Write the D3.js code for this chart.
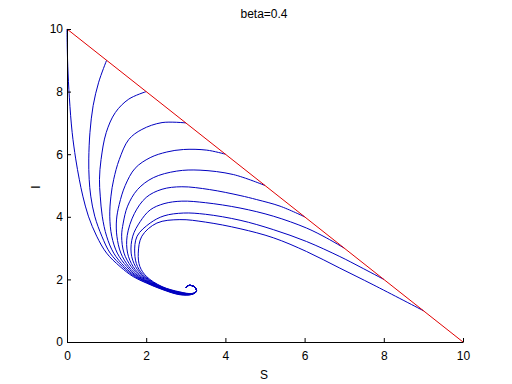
<!DOCTYPE html>
<html>
<head>
<meta charset="utf-8">
<script src="https://cdn.jsdelivr.net/npm/d3@7"></script>
<style>
  body { margin:0; background:#fff; }
  svg text { font-family: "Liberation Sans", Arial, sans-serif; font-size:12px; fill:#000; }
</style>
</head>
<body>
<svg id="chart" width="512" height="384"></svg>
<script>
// tick values
let xTicks = [0,2,4,6,8,10];
let yTicks = [0,2,4,6,8,10];

// S + I = N line
let lineN = [[0,10],[10,0]];

// trajectories [S, I], one per start point on the line
let traj0 = [[0,10],[0.005,9.5],[0.02,8.8],[0.06,7.8],[0.13,6.7],[0.22,5.85],[0.31,5.2],[0.4,4.66],[0.54,4.02],[0.75,3.38],[1.0,2.84],[1.34,2.41],[1.67,2.09],[2.01,1.88],[2.4,1.68],[2.85,1.51],[3.15,1.52],[3.27,1.62],[3.22,1.76],[3.08,1.81],[3.0,1.74]];
let traj1 = [[1,9],[0.8,8.3],[0.66,7.55],[0.58,6.7],[0.55,5.85],[0.56,5.2],[0.6,4.66],[0.7,4.02],[0.88,3.38],[1.09,2.84],[1.4,2.41],[1.71,2.09],[2.4,1.69],[2.85,1.52],[3.15,1.52],[3.27,1.62],[3.22,1.76],[3.08,1.81],[3.0,1.74]];
let traj2 = [[2,8],[1.56,7.76],[1.22,7.33],[0.99,6.69],[0.86,5.83],[0.82,5.2],[0.84,4.66],[0.89,4.02],[1.0,3.38],[1.18,2.84],[1.45,2.41],[1.75,2.09],[2.4,1.7],[2.85,1.53],[3.15,1.53],[3.27,1.62],[3.22,1.76],[3.08,1.81],[3.0,1.74]];
let traj3 = [[3,7],[2.4,7.01],[1.89,6.79],[1.56,6.47],[1.32,5.83],[1.18,5.2],[1.11,4.66],[1.08,4.02],[1.13,3.38],[1.27,2.84],[1.51,2.41],[1.78,2.09],[2.4,1.71],[2.85,1.54],[3.15,1.53],[3.27,1.62],[3.22,1.76],[3.08,1.81],[3.0,1.74]];
let traj4 = [[4,6],[3.53,6.13],[2.94,6.15],[2.52,6.07],[2.1,5.89],[1.72,5.55],[1.47,5.0],[1.32,4.4],[1.25,3.9],[1.26,3.38],[1.36,2.84],[1.56,2.41],[1.82,2.09],[2.4,1.72],[2.85,1.55],[3.15,1.53],[3.27,1.62],[3.22,1.76],[3.08,1.81],[3.0,1.74]];
let traj5 = [[5,5],[4.2,5.35],[3.36,5.49],[2.77,5.46],[2.18,5.25],[1.78,4.87],[1.53,4.34],[1.42,3.8],[1.38,3.38],[1.44,2.84],[1.62,2.41],[1.86,2.09],[2.4,1.73],[2.85,1.56],[3.15,1.53],[3.27,1.62],[3.22,1.76],[3.08,1.81],[3.0,1.74]];
let traj6 = [[6,4],[5.38,4.34],[4.79,4.55],[4.37,4.68],[3.6,4.87],[2.9,4.96],[2.4,4.88],[2.0,4.62],[1.7,4.1],[1.52,3.4],[1.53,2.84],[1.67,2.41],[1.9,2.09],[2.4,1.74],[2.85,1.57],[3.15,1.54],[3.27,1.62],[3.22,1.76],[3.08,1.81],[3.0,1.74]];
let traj7 = [[7,3],[6.56,3.32],[6.05,3.64],[5.21,4.02],[4.37,4.28],[3.5,4.45],[2.9,4.5],[2.45,4.42],[2.1,4.22],[1.85,3.85],[1.66,3.38],[1.62,2.84],[1.73,2.41],[1.94,2.09],[2.4,1.75],[2.85,1.58],[3.15,1.54],[3.27,1.62],[3.22,1.76],[3.08,1.81],[3.0,1.74]];
let traj8 = [[8,2],[7.4,2.4],[6.89,2.73],[6.05,3.21],[5.21,3.59],[4.37,3.89],[3.5,4.08],[2.94,4.12],[2.45,4.03],[2.1,3.8],[1.77,3.38],[1.71,2.84],[1.78,2.41],[1.97,2.09],[2.4,1.76],[2.85,1.59],[3.15,1.54],[3.27,1.62],[3.22,1.76],[3.08,1.81],[3.0,1.74]];
let traj9 = [[9,1],[7.73,1.83],[6.89,2.36],[6.05,2.89],[5.21,3.33],[4.37,3.62],[3.5,3.83],[2.85,3.91],[2.27,3.8],[1.89,3.38],[1.8,2.84],[1.84,2.41],[2.01,2.09],[2.4,1.77],[2.85,1.6],[3.15,1.55],[3.27,1.62],[3.22,1.76],[3.08,1.81],[3.0,1.74]];
let trajectories = [traj0,traj1,traj2,traj3,traj4,traj5,traj6,traj7,traj8,traj9];

let margin = {left:67, right:49, top:29, bottom:42};
let width = 512 - margin.left - margin.right
   ,height = 384 - margin.top - margin.bottom;

let svg = d3.select("#chart");
let g = svg.append("g").attr("transform","translate("+margin.left+","+margin.top+")");

let x = d3.scaleLinear().domain([0,10]).range([0,width]);
let y = d3.scaleLinear().domain([0,10]).range([height,0]);

let lineFunction = d3.line()
                     .x(function(d) {return x(d[0])})
                     .y(function(d) {return y(d[1])})
                     .curve(d3.curveCatmullRom);

// trajectories
trajectories.forEach(function(t){
  g.append("path")
   .attr("d",lineFunction(t))
   .attr("fill","none")
   .attr("stroke","#0000c0")
   .attr("stroke-width",1);
});

// red line
g.append("path")
 .attr("d",d3.line().x(d => x(d[0])).y(d => y(d[1]))(lineN))
 .attr("fill","none")
 .attr("stroke","#e00000")
 .attr("stroke-width",1);

// axes, ticks inward like matlab
let xAxis = g.append("g").attr("transform","translate(0,"+height+")")
             .call(d3.axisBottom(x).tickValues(xTicks).tickSizeInner(-4).tickSizeOuter(0).tickPadding(9));
let yAxis = g.append("g")
             .call(d3.axisLeft(y).tickValues(yTicks).tickSizeInner(-4).tickSizeOuter(0).tickPadding(4));
[xAxis,yAxis].forEach(function(a){
  a.select(".domain").attr("stroke","#000");
  a.selectAll(".tick line").attr("stroke","#000");
  a.selectAll("text").attr("font-size","12px").attr("font-family","'Liberation Sans', Arial, sans-serif");
});

// title and labels
svg.append("text").attr("x",264).attr("y",18).attr("text-anchor","middle").text("beta=0.4");
svg.append("text").attr("x",264).attr("y",379).attr("text-anchor","middle").text("S");
svg.append("text").attr("transform","translate(39.5,187) rotate(-90)").attr("text-anchor","middle").text("I");
</script>
</body>
</html>
